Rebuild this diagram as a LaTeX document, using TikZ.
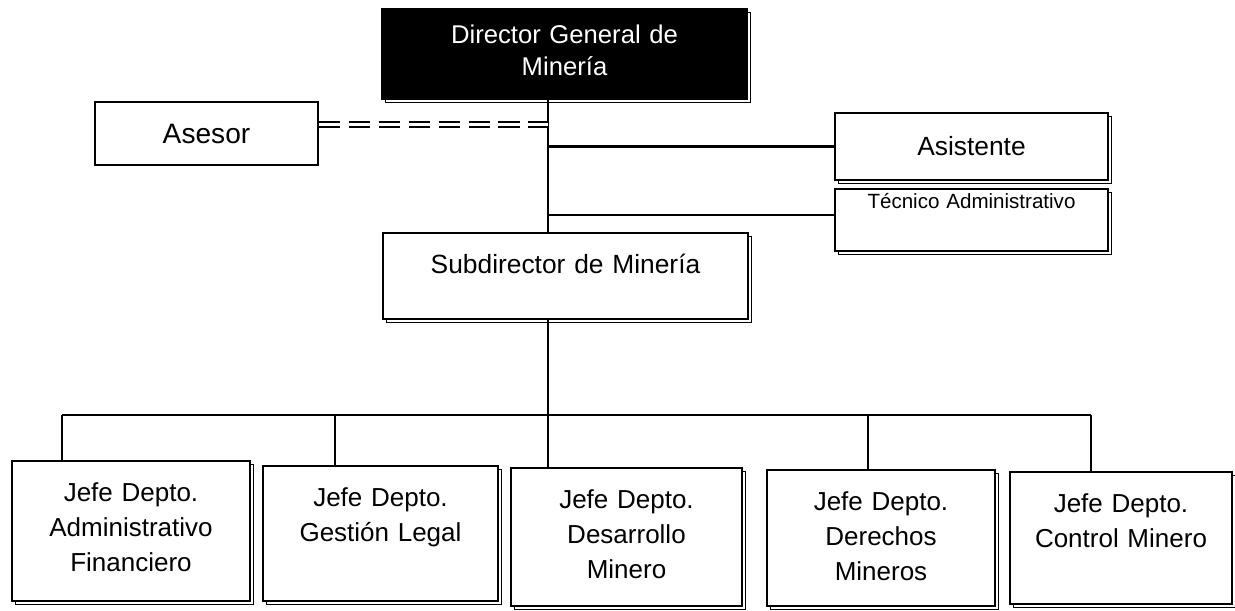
\documentclass[tikz,border=0pt]{standalone}
\usepackage{fontspec}
\setmainfont{Liberation Sans}
\usetikzlibrary{shadows,calc}
\tikzset{
    %Caja con sombra de contorno
    caja/.style={draw, line width=1.4pt, fill=white, inner sep=0pt,
        general shadow={draw, line width=0.7pt, fill=white, shadow xshift=1.8pt, shadow yshift=-1.8pt}},
    jefe/.style={caja, anchor=north, align=center, text height=0.8cm, font=\fontsize{14.8}{19.9}\selectfont},
    linea/.style={line width=1.4pt},
    asesoria/.style={double, double distance=2.2pt, line width=0.9pt, dash pattern=on 12pt off 5pt}
}

\begin{document}
\begin{tikzpicture}
    \useasboundingbox (0,0) rectangle (24.7,-12.2);

    \node[caja, fill=black, text=white, anchor=north, align=center, text width=7.3cm, text height=0.68cm, text depth=1.12cm, font=\fontsize{14.6}{18.2}\selectfont] (dir) at (11.29,-0.16) {Director General de\\ Minería};
    \node[draw, line width=1.4pt, minimum width=4.46cm, minimum height=1.26cm, font=\fontsize{16}{19}\selectfont] (ase) at (4.13,-2.67) {Asesor};
    \node[caja, minimum width=5.46cm, minimum height=1.34cm, font=\fontsize{15}{18}\selectfont] (asi) at (19.43,-2.93) {Asistente};
    \node[caja, anchor=north, align=center, text width=5.46cm, text height=0.38cm, text depth=0.86cm, font=\fontsize{11.7}{14}\selectfont] (tec) at (19.43,-3.76) {Técnico Administrativo};
    \node[jefe, text width=7.3cm, text depth=0.92cm, font=\fontsize{15}{19.9}\selectfont] (sub) at (11.31,-4.64) {Subdirector de Minería};

    \node[jefe, text width=4.76cm, text depth=2.0cm] (adm) at (2.62,-9.2) {Jefe Depto.\\ Administrativo\\ Financiero};
    \node[jefe, text width=4.7cm, text depth=1.9cm] (leg) at (7.61,-9.3) {Jefe Depto.\\ Gestión Legal};
    \node[jefe, text width=4.62cm, text depth=1.96cm] (des) at (12.53,-9.34) {Jefe Depto.\\ Desarrollo\\ Minero};
    \node[jefe, text width=4.56cm, text depth=1.92cm] (der) at (17.62,-9.38) {Jefe Depto.\\ Derechos\\ Mineros};
    \node[jefe, text width=4.44cm, text depth=1.84cm] (con) at (22.42,-9.42) {Jefe Depto.\\ Control Minero};

    \coordinate (eje) at (10.96,0);
    \coordinate (c1) at (10.96,-2.49);
    \coordinate (c2) at (10.96,-4.3);
    \coordinate (b1) at (1.24,-8.3);
    \coordinate (b2) at (6.7,-8.3);
    \coordinate (b4) at (17.36,-8.3);
    \coordinate (b5) at (21.82,-8.3);

    \draw[linea] (dir.south -| eje) -- (sub.north -| eje);
    \draw[asesoria] (ase.east |- c1) -- (c1);
    \draw[linea] (eje |- asi.west) -- (asi.west);
    \draw[linea] (c2) -- (c2 -| tec.west);
    \draw[linea] (sub.south -| eje) -- (des.north -| eje);
    \draw[linea] (b1) -- (b5);
    \draw[linea] (b1) -- (b1 |- adm.north);
    \draw[linea] (b2) -- (b2 |- leg.north);
    \draw[linea] (b4) -- (b4 |- der.north);
    \draw[linea] (b5) -- (b5 |- con.north);
\end{tikzpicture}
\end{document}
